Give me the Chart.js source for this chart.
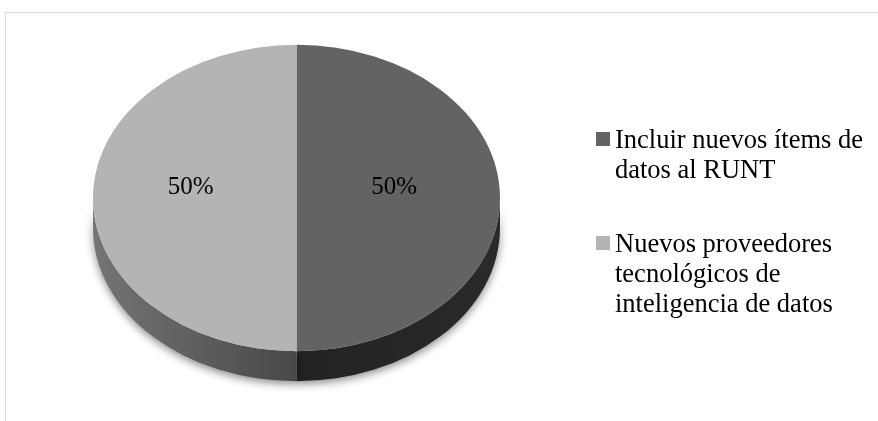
<!DOCTYPE html>
<html>
<head>
<meta charset="utf-8">
<script src="https://cdn.jsdelivr.net/npm/chart.js@4/dist/chart.umd.min.js"></script>
<style>
    html, body { margin: 0; padding: 0; background: #fff; }
    #wrap { position: relative; width: 878px; height: 421px; overflow: hidden; }
    #frame { position: absolute; left: 5px; top: 12px; right: 0; bottom: 0;
             border-top: 1px solid #d9d9d9; border-left: 1px solid #d9d9d9; }
    #pie { position: absolute; left: 0; top: 0; }
    #legend { position: absolute; left: 596px; top: 124px; width: 270px;
              font-family: "Liberation Serif", "Times New Roman", serif; font-size: 26.5px;
              line-height: 30px; color: #000; }
    .item { position: relative; padding-left: 19px; margin-bottom: 44px; }
    .item .box { position: absolute; left: 0; top: 8px; width: 14px; height: 14px; }
</style>
</head>
<body>
<div id="wrap">
    <div id="frame"></div>
    <canvas id="pie" width="878" height="421"></canvas>
    <div id="legend"></div>
</div>
<script>
const categories = ['Incluir nuevos ítems de datos al RUNT', 'Nuevos proveedores tecnológicos de inteligencia de datos'];
const values = [50, 50];
const faceColors = ['#636363', '#b4b4b4'];
// side of the 3D disc: [inner shade, outer shade]
const sideColors = [['#222222', '#2a2a2a'], ['#484848', '#757575']];

// tilt the pie into an ellipse and give it some depth
const tiltPlugin = {
    id: 'tilt',
    screen(chart) {
        const o = chart.options.plugins.tilt;
        const arc = chart.getDatasetMeta(0).data[0];
        return { cx: arc.x, cy: o.centerY, r: arc.outerRadius, ry: arc.outerRadius * o.squash, y0: arc.y, k: o.squash, depth: o.depth };
    },
    beforeDatasetsDraw(chart) {
        const ctx = chart.ctx;
        const s = this.screen(chart);
        const arcs = chart.getDatasetMeta(0).data;

        ctx.save();
        ctx.shadowColor = 'rgba(0,0,0,0.45)';
        ctx.shadowBlur = 8;
        ctx.shadowOffsetY = 3;
        arcs.forEach((arc, i) => {
            let a0 = arc.startAngle, a1 = arc.endAngle;
            a0 = Math.max(a0, 0);
            a1 = Math.min(a1, Math.PI);
            if (a1 <= a0) return;
            const left = Math.cos((a0 + a1) / 2) < 0;
            const g = ctx.createLinearGradient(left ? s.cx : s.cx, 0, left ? s.cx - s.r : s.cx + s.r, 0);
            g.addColorStop(0, sideColors[i][0]);
            g.addColorStop(1, sideColors[i][1]);
            ctx.fillStyle = g;
            ctx.beginPath();
            ctx.ellipse(s.cx, s.cy, s.r, s.ry, 0, a0, a1);
            ctx.ellipse(s.cx, s.cy + s.depth, s.r, s.ry, 0, a1, a0, true);
            ctx.closePath();
            ctx.fill();
        });
        ctx.restore();

        ctx.save();
        ctx.translate(0, s.cy);
        ctx.scale(1, s.k);
        ctx.translate(0, -s.y0);
    },
    afterDatasetsDraw(chart) {
        const ctx = chart.ctx;
        ctx.restore();
        const s = this.screen(chart);
        const o = chart.options.plugins.tilt;
        const total = values.reduce((a, b) => a + b, 0);
        ctx.save();
        ctx.font = '25px "Liberation Serif", "Times New Roman", serif';
        ctx.fillStyle = '#000';
        ctx.textAlign = 'center';
        ctx.textBaseline = 'middle';
        chart.getDatasetMeta(0).data.forEach((arc, i) => {
            const p = arc.tooltipPosition();
            const y = s.cy + (p.y - s.y0) * s.k + o.labelShift;
            ctx.fillText(Math.round(values[i] / total * 100) + '%', p.x - 4, y);
        });
        ctx.restore();
    }
};

new Chart(document.getElementById('pie'), {
    type: 'pie',
    data: {
        labels: categories,
        datasets: [{
            data: values,
            backgroundColor: faceColors,
            borderWidth: 0,
        }],
    },
    options: {
        responsive: false,
        animation: false,
        events: [],
        layout: { padding: { left: 93, right: 378, top: 7, bottom: 7 } },
        plugins: {
            legend: { display: false },
            tooltip: { enabled: false },
            tilt: { centerY: 198, squash: 0.753, depth: 30, labelShift: -11 },
        },
    },
    plugins: [tiltPlugin],
});

const legend = document.getElementById('legend');
categories.forEach((name, i) => {
    const item = document.createElement('div');
    item.className = 'item';
    const box = document.createElement('span');
    box.className = 'box';
    box.style.background = faceColors[i];
    item.appendChild(box);
    item.appendChild(document.createTextNode(name));
    legend.appendChild(item);
});
</script>
</body>
</html>
